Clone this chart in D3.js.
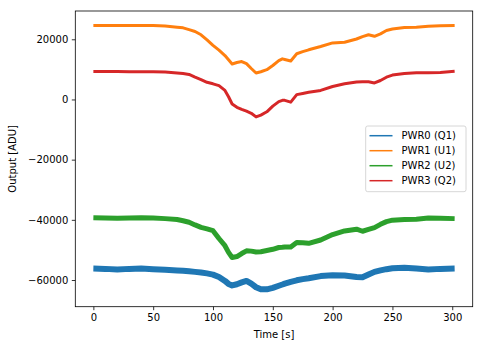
<!DOCTYPE html>
<html><head><meta charset="utf-8">
<script src="https://cdn.jsdelivr.net/npm/d3@7"></script>
<style>body{margin:0;background:#fff;} svg{display:block;font-family:"DejaVu Sans",sans-serif;}</style>
</head><body><svg id="c" width="483" height="347"></svg>
<script>
const time = [0,10,20,30,40,50,60,70,75,80,85,90,95,100,105,110,113,116,120,124,128,132,136,140,145,150,155,158,160,165,170,175,180,190,200,210,220,225,230,235,240,245,250,260,270,280,290,302];
const pwr0 = [-56200,-56300,-56500,-56300,-56200,-56400,-56600,-56800,-56900,-57100,-57300,-57500,-57800,-58200,-59000,-60300,-61300,-61800,-61400,-60800,-60300,-61200,-62400,-63100,-63100,-62600,-61900,-61500,-61200,-60600,-60100,-59700,-59400,-58700,-58400,-58500,-59000,-59100,-58200,-57300,-56800,-56400,-56100,-55900,-56200,-56500,-56300,-56200];
const pwr1 = [24580,24580,24580,24580,24580,24550,24400,24000,23800,23200,22600,21500,19800,18000,16400,14600,13200,11800,12300,12600,11900,10300,8800,9200,9900,11300,12900,13500,13300,12800,15200,15900,16500,17600,18800,19000,20100,20900,21500,21000,21800,22900,23400,23900,24000,24300,24500,24580];
const pwr2 = [-39300,-39400,-39500,-39400,-39300,-39400,-39600,-39900,-40300,-40800,-41700,-42500,-43000,-43600,-46200,-48600,-50800,-52500,-52200,-51200,-50300,-50400,-50700,-50600,-50200,-49800,-49200,-49100,-49000,-49000,-47500,-47600,-47800,-46700,-44900,-43700,-43100,-43800,-43200,-42600,-41500,-40600,-40100,-39900,-39800,-39400,-39500,-39600];
const pwr3 = [9300,9300,9300,9250,9200,9200,9100,8800,8600,8300,7400,6600,5700,5200,4600,3000,900,-1500,-2600,-3300,-3900,-4600,-5800,-5200,-4100,-2200,-700,-300,-300,-900,1600,2000,2400,3000,4300,5200,5800,5900,5900,5500,6300,7400,8100,8600,8870,8870,9000,9400];
const seriesNames = ["PWR0 (Q1)","PWR1 (U1)","PWR2 (U2)","PWR3 (Q2)"];
const seriesValues = [pwr0,pwr1,pwr2,pwr3];
const colors = ["#1f77b4","#ff7f0e","#2ca02c","#d62728"];
const bandWidths = [6,3,5,3];
const xTicks = [0,50,100,150,200,250,300];
const yTicks = [-60000,-40000,-20000,0,20000];

const svg = d3.select("#c");
const L=75.3, T=11, W=397.4, H=295.7;
const tmin=d3.min(time), tmax=d3.max(time), pad=(tmax-tmin)*0.05;
const x = d3.scaleLinear().domain([tmin-pad,tmax+pad]).range([L,L+W]);
const y = d3.scaleLinear().domain([-68870,29400]).range([T+H,T]);

svg.append("defs").append("clipPath").attr("id","clip").append("rect")
  .attr("x",L).attr("y",T).attr("width",W).attr("height",H);

const g = svg.append("g").attr("clip-path","url(#clip)");
seriesValues.forEach((vals,i)=>{
  const line = d3.line().x((d,j)=>x(time[j])).y(d=>y(d));
  g.append("path").attr("d",line(vals)).attr("fill","none")
    .attr("stroke",colors[i]).attr("stroke-width",bandWidths[i])
    .attr("stroke-linejoin","round").attr("stroke-linecap","butt");
});

const xa = svg.append("g").attr("transform",`translate(0,${T+H})`)
  .call(d3.axisBottom(x).tickValues(xTicks).tickSize(3.5).tickPadding(3.5).tickFormat(d3.format("d")));
const ya = svg.append("g").attr("transform",`translate(${L},0)`)
  .call(d3.axisLeft(y).tickValues(yTicks).tickSize(3.5).tickPadding(3.5).tickFormat(d3.format("d")));
[xa,ya].forEach(a=>{
  a.select(".domain").remove();
  a.selectAll("text").attr("font-size",10).attr("font-family","DejaVu Sans").attr("fill","#000");
  a.selectAll("line").attr("stroke","#000").attr("stroke-width",0.8);
});
svg.append("rect").attr("x",L).attr("y",T).attr("width",W).attr("height",H)
  .attr("fill","none").attr("stroke","#000").attr("stroke-width",0.8);

svg.append("text").attr("x",L+W/2).attr("y",338).attr("text-anchor","middle")
  .attr("font-size",10).text("Time [s]");
svg.append("text").attr("transform",`translate(15.5,${T+H/2}) rotate(-90)`).attr("text-anchor","middle")
  .attr("font-size",10).text("Output [ADU]");

const lg = svg.append("g");
lg.append("rect").attr("x",365.7).attr("y",126).attr("width",100.3).attr("height",65.7)
  .attr("rx",2).attr("fill","#fff").attr("fill-opacity",0.8).attr("stroke","#cccccc").attr("stroke-width",0.8);
seriesNames.forEach((n,i)=>{
  const yy = 135.7 + i*15;
  lg.append("line").attr("x1",369.5).attr("x2",392.5).attr("y1",yy).attr("y2",yy)
    .attr("stroke",colors[i]).attr("stroke-width",1.5);
  lg.append("text").attr("x",401.5).attr("y",yy).attr("dy","0.35em").attr("font-size",10).text(n);
});
</script></body></html>
